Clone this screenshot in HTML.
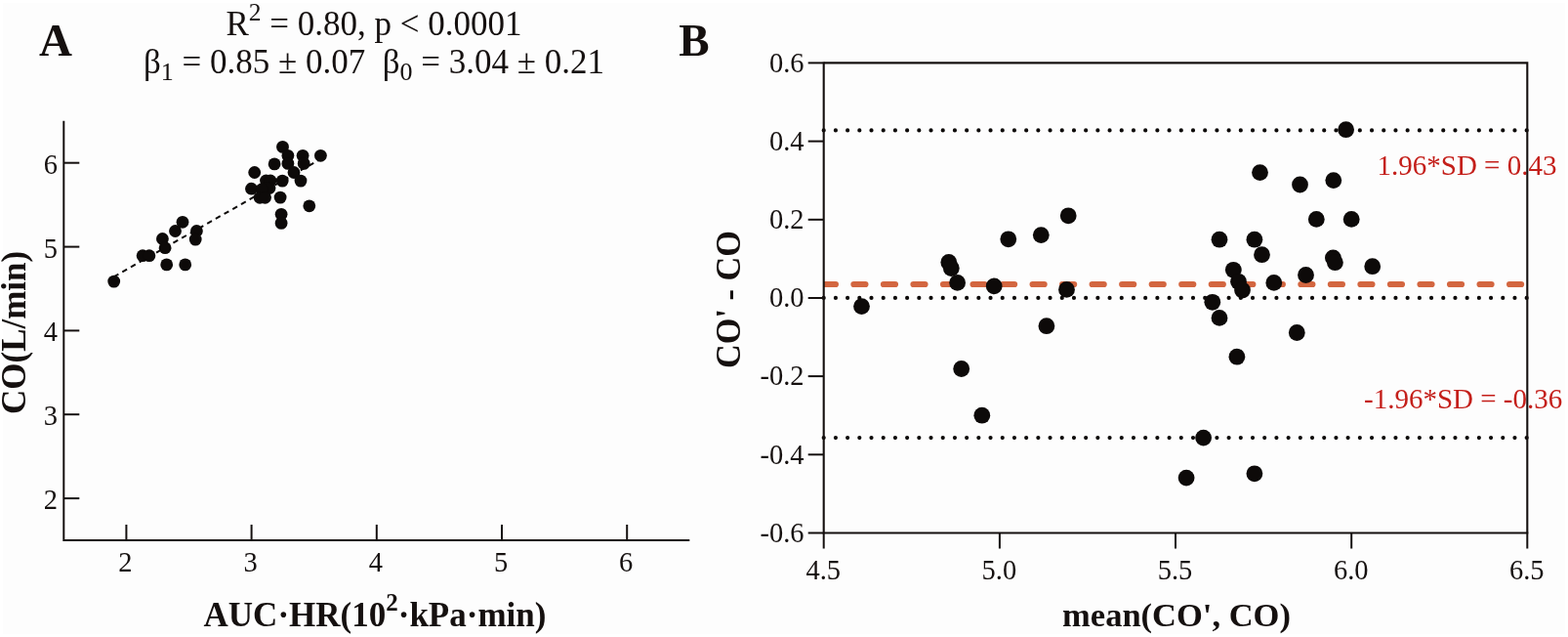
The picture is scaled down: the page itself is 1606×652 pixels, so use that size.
<!DOCTYPE html>
<html><head><meta charset="utf-8"><title>Figure</title>
<style>html,body{margin:0;padding:0;background:#fff;} body{width:1606px;height:652px;overflow:hidden;} svg{display:block;}</style>
</head><body>
<svg width="1606" height="652" viewBox="0 0 1606 652">
<rect x="3" y="3" width="1600" height="646" fill="#fdfdfd"/>
<defs><clipPath id="cb"><rect x="843.7" y="64.4" width="720.6" height="481.1"/></clipPath></defs>
<text x="40" y="57" font-family="Liberation Serif, serif" font-weight="bold" font-size="47" fill="#15100f">A</text>
<g font-family="Liberation Serif, serif" font-size="35" fill="#15100f" text-anchor="middle">
<text x="383" y="36.3">R<tspan font-size="25.5" dy="-15.7">2</tspan><tspan dy="15.7"> = 0.80, p &lt; 0.0001</tspan></text>
<text x="383" y="74.7">β<tspan font-size="26" dy="7.5">1</tspan><tspan dy="-7.5"> = 0.85 ± 0.07&#160; β</tspan><tspan font-size="26" dy="7.5">0</tspan><tspan dy="-7.5"> = 3.04 ± 0.21</tspan></text>
</g>
<g stroke="#15100f" stroke-width="2" fill="none">
<path d="M65.3,123.8 V554.0 M64.3,553.0 H706.3"/>
<path d="M65.3,510.1 H81.3"/>
<path d="M129.4,553.0 V537.0"/>
<path d="M65.3,424.2 H81.3"/>
<path d="M257.6,553.0 V537.0"/>
<path d="M65.3,338.4 H81.3"/>
<path d="M385.8,553.0 V537.0"/>
<path d="M65.3,252.6 H81.3"/>
<path d="M514.0,553.0 V537.0"/>
<path d="M65.3,166.7 H81.3"/>
<path d="M642.2,553.0 V537.0"/>
</g>
<g font-family="Liberation Serif, serif" font-size="29.5" fill="#15100f">
<text transform="translate(59.0,521.0) scale(0.965,1)" text-anchor="end">2</text>
<text transform="translate(128.4,584.8) scale(0.965,1)" text-anchor="middle">2</text>
<text transform="translate(59.0,435.1) scale(0.965,1)" text-anchor="end">3</text>
<text transform="translate(256.6,584.8) scale(0.965,1)" text-anchor="middle">3</text>
<text transform="translate(59.0,349.3) scale(0.965,1)" text-anchor="end">4</text>
<text transform="translate(384.8,584.8) scale(0.965,1)" text-anchor="middle">4</text>
<text transform="translate(59.0,263.5) scale(0.965,1)" text-anchor="end">5</text>
<text transform="translate(513.0,584.8) scale(0.965,1)" text-anchor="middle">5</text>
<text transform="translate(59.0,177.6) scale(0.965,1)" text-anchor="end">6</text>
<text transform="translate(641.2,584.8) scale(0.965,1)" text-anchor="middle">6</text>
</g>
<text x="384" y="641" text-anchor="middle" font-family="Liberation Serif, serif" font-weight="bold" font-size="35" fill="#15100f">AUC·HR(10<tspan font-size="25" dy="-16">2</tspan><tspan dy="16">·kPa·min)</tspan></text>
<text transform="translate(26.4,340.4) rotate(-90)" text-anchor="middle" font-family="Liberation Serif, serif" font-weight="bold" font-size="35" fill="#15100f">CO(L/min)</text>
<path d="M116.6,283.3 L328.1,162.9" stroke="#0d0a09" stroke-width="2" stroke-dasharray="5.5 4.5" fill="none"/>
<g fill="#0d0a09">
<circle cx="116.7" cy="288.1" r="6.4"/>
<circle cx="146.1" cy="261.7" r="6.4"/>
<circle cx="152.9" cy="261.7" r="6.4"/>
<circle cx="170.7" cy="270.9" r="6.4"/>
<circle cx="189.7" cy="270.9" r="6.4"/>
<circle cx="166.4" cy="244.5" r="6.4"/>
<circle cx="169.1" cy="253.7" r="6.4"/>
<circle cx="179.5" cy="236.5" r="6.4"/>
<circle cx="187.0" cy="227.3" r="6.4"/>
<circle cx="201.4" cy="236.5" r="6.4"/>
<circle cx="200.2" cy="245.1" r="6.4"/>
<circle cx="289.5" cy="150.4" r="6.4"/>
<circle cx="294.9" cy="159.3" r="6.4"/>
<circle cx="294.9" cy="167.4" r="6.4"/>
<circle cx="310.1" cy="159.3" r="6.4"/>
<circle cx="311.2" cy="167.4" r="6.4"/>
<circle cx="328.4" cy="159.3" r="6.4"/>
<circle cx="281.1" cy="167.9" r="6.4"/>
<circle cx="301.0" cy="176.5" r="6.4"/>
<circle cx="260.7" cy="176.5" r="6.4"/>
<circle cx="308.0" cy="185.1" r="6.4"/>
<circle cx="289.2" cy="185.1" r="6.4"/>
<circle cx="272.5" cy="185.0" r="6.4"/>
<circle cx="277.0" cy="185.0" r="6.4"/>
<circle cx="276.0" cy="192.5" r="6.4"/>
<circle cx="257.5" cy="193.2" r="6.4"/>
<circle cx="273.6" cy="192.6" r="6.4"/>
<circle cx="268.3" cy="193.7" r="6.4"/>
<circle cx="266.1" cy="202.3" r="6.4"/>
<circle cx="271.5" cy="202.3" r="6.4"/>
<circle cx="287.1" cy="202.1" r="6.4"/>
<circle cx="316.8" cy="210.8" r="6.4"/>
<circle cx="288.1" cy="219.3" r="6.4"/>
<circle cx="288.1" cy="228.4" r="6.4"/>
</g>
<text x="695.3" y="57.4" font-family="Liberation Serif, serif" font-weight="bold" font-size="47" fill="#15100f">B</text>
<path d="M843.7,133.4 H1564.3" stroke="#0d0a09" stroke-width="4.2" stroke-linecap="round" stroke-dasharray="0 12.203" fill="none"/>
<path d="M843.7,304.9 H1564.3" stroke="#0d0a09" stroke-width="4.2" stroke-linecap="round" stroke-dasharray="0 12.203" fill="none"/>
<path d="M843.7,448.1 H1564.3" stroke="#0d0a09" stroke-width="4.2" stroke-linecap="round" stroke-dasharray="0 12.203" fill="none"/>
<g clip-path="url(#cb)"><path d="M843.9,291.0 H1564.3" stroke="#d36640" stroke-width="6.2" stroke-linecap="round" stroke-dasharray="12 18.53" fill="none"/></g>
<g font-family="Liberation Serif, serif" font-size="29" fill="#c41f1a">
<text x="1410.5" y="179">1.96*SD = 0.43</text>
<text x="1397" y="418">-1.96*SD = -0.36</text>
</g>
<g fill="#0d0a09">
<circle cx="882.5" cy="313.6" r="8.4"/>
<circle cx="971.8" cy="268.5" r="8.4"/>
<circle cx="974.3" cy="274.5" r="8.4"/>
<circle cx="980.6" cy="289.4" r="8.4"/>
<circle cx="984.7" cy="377.5" r="8.4"/>
<circle cx="1005.8" cy="425.2" r="8.4"/>
<circle cx="1018.2" cy="292.9" r="8.4"/>
<circle cx="1032.8" cy="244.8" r="8.4"/>
<circle cx="1066.3" cy="240.6" r="8.4"/>
<circle cx="1071.9" cy="333.7" r="8.4"/>
<circle cx="1094.2" cy="220.8" r="8.4"/>
<circle cx="1092.5" cy="296.4" r="8.4"/>
<circle cx="1378.6" cy="132.7" r="8.4"/>
<circle cx="1290.5" cy="176.6" r="8.4"/>
<circle cx="1331.5" cy="189.0" r="8.4"/>
<circle cx="1365.8" cy="184.6" r="8.4"/>
<circle cx="1348.3" cy="224.4" r="8.4"/>
<circle cx="1384.2" cy="224.4" r="8.4"/>
<circle cx="1249.0" cy="245.2" r="8.4"/>
<circle cx="1284.9" cy="245.2" r="8.4"/>
<circle cx="1292.5" cy="260.7" r="8.4"/>
<circle cx="1365.4" cy="263.9" r="8.4"/>
<circle cx="1367.4" cy="268.7" r="8.4"/>
<circle cx="1405.7" cy="272.7" r="8.4"/>
<circle cx="1337.5" cy="281.5" r="8.4"/>
<circle cx="1304.8" cy="289.4" r="8.4"/>
<circle cx="1263.3" cy="276.3" r="8.4"/>
<circle cx="1268.5" cy="288.3" r="8.4"/>
<circle cx="1272.5" cy="297.0" r="8.4"/>
<circle cx="1241.8" cy="309.3" r="8.4"/>
<circle cx="1249.0" cy="325.4" r="8.4"/>
<circle cx="1328.3" cy="340.5" r="8.4"/>
<circle cx="1266.9" cy="365.2" r="8.4"/>
<circle cx="1232.6" cy="448.1" r="8.4"/>
<circle cx="1215.1" cy="489.1" r="8.4"/>
<circle cx="1284.9" cy="484.8" r="8.4"/>
</g>
<g stroke="#15100f" fill="none">
<path d="M843.7,64.4 H1564.3 V545.5" stroke-width="2.1"/>
<path d="M843.7,63.400000000000006 V546.5 M842.7,545.5 H1565.3" stroke-width="2.1"/>
<path d="M843.7,64.4 H827.7" stroke-width="2"/>
<path d="M843.7,144.6 H827.7" stroke-width="2"/>
<path d="M843.7,224.8 H827.7" stroke-width="2"/>
<path d="M843.7,305.0 H827.7" stroke-width="2"/>
<path d="M843.7,385.1 H827.7" stroke-width="2"/>
<path d="M843.7,465.3 H827.7" stroke-width="2"/>
<path d="M843.7,545.5 H827.7" stroke-width="2"/>
<path d="M843.7,545.5 V561.5" stroke-width="2"/>
<path d="M1023.9,545.5 V561.5" stroke-width="2"/>
<path d="M1204.0,545.5 V561.5" stroke-width="2"/>
<path d="M1384.2,545.5 V561.5" stroke-width="2"/>
<path d="M1564.3,545.5 V561.5" stroke-width="2"/>
</g>
<g font-family="Liberation Serif, serif" font-size="29.5" fill="#15100f">
<text transform="translate(823.5,73.7) scale(0.965,1)" text-anchor="end">0.6</text>
<text transform="translate(823.5,153.9) scale(0.965,1)" text-anchor="end">0.4</text>
<text transform="translate(823.5,234.1) scale(0.965,1)" text-anchor="end">0.2</text>
<text transform="translate(823.5,314.3) scale(0.965,1)" text-anchor="end">0.0</text>
<text transform="translate(823.5,394.4) scale(0.965,1)" text-anchor="end">-0.2</text>
<text transform="translate(823.5,474.6) scale(0.965,1)" text-anchor="end">-0.4</text>
<text transform="translate(823.5,554.8) scale(0.965,1)" text-anchor="end">-0.6</text>
<text transform="translate(843.2,592.8) scale(0.965,1)" text-anchor="middle">4.5</text>
<text transform="translate(1023.4,592.8) scale(0.965,1)" text-anchor="middle">5.0</text>
<text transform="translate(1203.5,592.8) scale(0.965,1)" text-anchor="middle">5.5</text>
<text transform="translate(1383.7,592.8) scale(0.965,1)" text-anchor="middle">6.0</text>
<text transform="translate(1563.8,592.8) scale(0.965,1)" text-anchor="middle">6.5</text>
</g>
<text x="1205" y="641" text-anchor="middle" font-family="Liberation Serif, serif" font-weight="bold" font-size="34.5" fill="#15100f">mean(CO', CO)</text>
<text transform="translate(757.5,306.5) rotate(-90) scale(0.975,1)" text-anchor="middle" font-family="Liberation Serif, serif" font-weight="bold" font-size="35.2" fill="#15100f">CO' - CO</text>
</svg>
</body></html>
